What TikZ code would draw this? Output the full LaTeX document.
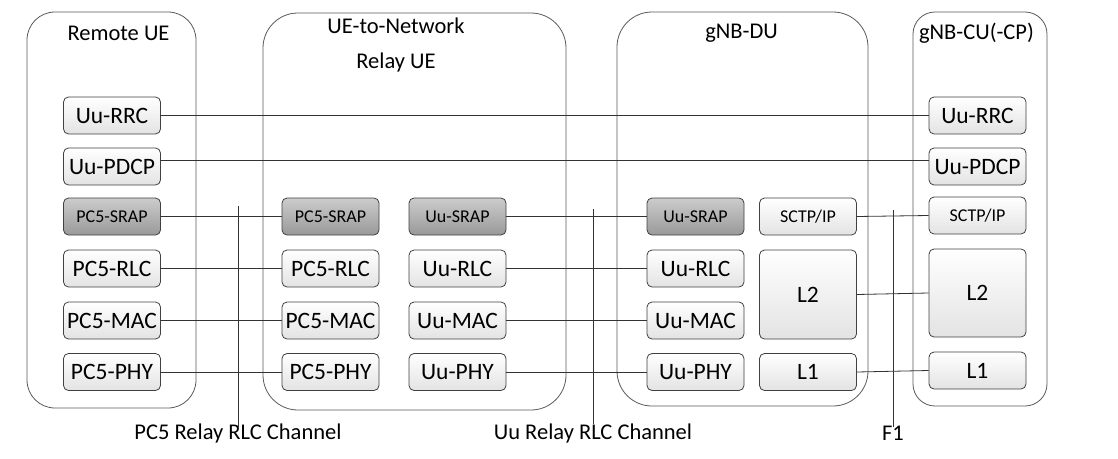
\documentclass[tikz,border=0pt]{standalone}
\usepackage{fontspec}
\setmainfont{Carlito}
\usetikzlibrary{positioning}

\begin{document}
\begin{tikzpicture}[x=1pt,y=-1pt,
    box/.style={draw=black!75, line width=0.8pt, rounded corners=5pt, minimum width=97pt, minimum height=37pt, inner sep=0pt, top color=white, bottom color=black!11, font=\fontsize{23.5}{28}\selectfont},
    srapbox/.style={box, top color=black!20, bottom color=black!40, font=\fontsize{18}{22}\selectfont},
    smallbox/.style={box, font=\fontsize{18}{22}\selectfont},
    entity/.style={draw=black!65, line width=0.8pt, inner sep=0pt},
    link/.style={draw=black!80, line width=0.8pt},
    rlclink/.style={link, line width=1.8pt},
    title/.style={font=\fontsize{22.5}{35}\selectfont, align=center, inner sep=1pt}]
    \useasboundingbox (0,0) rectangle (1118,458);

    % Draw the four entities
    \node[entity, rounded corners=28pt, minimum width=169pt, minimum height=396pt] (remote) at (111.5,210) {};
    \node[entity, rounded corners=35pt, minimum width=303pt, minimum height=397pt] (relay) at (414.5,211.5) {};
    \node[entity, rounded corners=35pt, minimum width=251pt, minimum height=394pt] (du) at (742.5,209) {};
    \node[entity, rounded corners=22pt, minimum width=134pt, minimum height=394pt] (cu) at (980,209) {};

    \node[title] (remotettl) at (118.5,33) {Remote UE};
    \node[title] (relayttl) at (396,44.5) {UE-to-Network\\Relay UE};
    \node[title] (duttl) at (741.5,33) {gNB-DU};
    \node[title] (cuttl) at (976.5,33) {gNB-CU(-CP)};

    % Remote UE stack
    \node[box] (rrrc) at (112,115.5) {Uu-RRC};
    \node[box] (rpdcp) at (112,166.5) {Uu-PDCP};
    \node[srapbox] (rsrap) at (112,216.5) {PC5-SRAP};
    \foreach \n/\t/\y in {rlc/PC5-RLC/268.5, mac/PC5-MAC/320.5, phy/PC5-PHY/372} {
      \node[box] (r\n) at (112,\y) {\t};
    }

    % Relay UE stacks (PC5 side and Uu side)
    \node[srapbox] (psrap) at (330.5,216.5) {PC5-SRAP};
    \node[srapbox] (usrap) at (457.5,216.5) {Uu-SRAP};
    \foreach \n/\t/\y in {rlc/RLC/268.5, mac/MAC/320.5, phy/PHY/372} {
      \node[box] (p\n) at (330.5,\y) {PC5-\t};
      \node[box] (u\n) at (457.5,\y) {Uu-\t};
    }

    % gNB-DU stacks
    \node[srapbox] (dsrap) at (695.5,216.5) {Uu-SRAP};
    \foreach \n/\t/\y in {rlc/Uu-RLC/268.5, mac/Uu-MAC/320.5, phy/Uu-PHY/372} {
      \node[box] (d\n) at (695.5,\y) {\t};
    }
    \node[smallbox] (dsctp) at (808,216.5) {SCTP/IP};
    \node[box, minimum height=89pt] (dltwo) at (808,294.5) {L2};
    \node[box] (dlone) at (808,372) {L1};

    % gNB-CU stack
    \node[box] (crrc) at (977.5,115.5) {Uu-RRC};
    \node[box] (cpdcp) at (977.5,166.5) {Uu-PDCP};
    \node[smallbox] (csctp) at (977.5,215.5) {SCTP/IP};
    \node[box, minimum height=88pt] (cltwo) at (977.5,293) {L2};
    \node[box] (clone) at (977.5,370.5) {L1};

    % Peer links
    \draw[link] (rrrc.east) -- (crrc.west);
    \draw[link] ([yshift=6pt]rpdcp.east) -- ([yshift=6pt]cpdcp.west);
    \draw[link] (rsrap.east) -- (psrap.west);
    \draw[link] (usrap.east) -- (dsrap.west);
    \draw[link] (dsctp.east) -- (csctp.west);
    \draw[rlclink] (rrlc.east) -- (prlc.west);
    \draw[rlclink] (urlc.east) -- (drlc.west);
    \foreach \n in {mac, phy} {
      \draw[link] (r\n.east) -- (p\n.west);
      \draw[link] (u\n.east) -- (d\n.west);
    }
    \draw[link] (dltwo.east) -- (cltwo.west);
    \draw[link] (dlone.east) -- (clone.west);

    % Interface markers
    \coordinate (pcfive) at (238,206);
    \coordinate (uurelay) at (593,209);
    \coordinate (fone) at (893,210);
    \node[title] (pcfivelbl) at (238,433) {PC5 Relay RLC Channel};
    \node[title] (uurelaylbl) at (593,433) {Uu Relay RLC Channel};
    \node[title] (fonelbl) at (893,433) {F1};
    \draw[link] (pcfive) -- ([yshift=-5pt]pcfivelbl.north);
    \draw[link] (uurelay) -- ([yshift=-2pt]uurelaylbl.north);
    \draw[link] (fone) -- ([yshift=-2pt]fonelbl.north);
\end{tikzpicture}
\end{document}
